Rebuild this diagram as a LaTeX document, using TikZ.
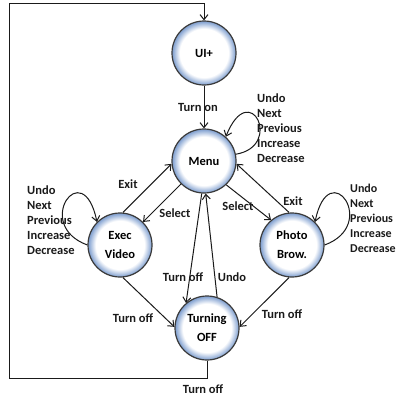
\documentclass[tikz,border=0pt]{standalone}
\usepackage{fontspec}
\setmainfont{Carlito}
\usetikzlibrary{arrows.meta,positioning}
\definecolor{rimblue}{HTML}{86A4D2}
\definecolor{stateline}{HTML}{3A3A3A}
\definecolor{wireblack}{HTML}{1A1A1A}
\pgfdeclareradialshading{statefill}{\pgfpoint{0bp}{0bp}}{color(0bp)=(white); color(19bp)=(white); color(24.5bp)=(rimblue); color(50bp)=(rimblue)}
\tikzset{
    state/.style={circle, minimum size=64pt, inner sep=0pt, draw=stateline, line width=1.2pt, shade, shading=statefill, align=center, font=\bfseries\fontsize{12.5}{19}\selectfont},
    trans/.style={-{Straight Barb[length=5pt,width=8pt]}, line width=1pt, wireblack},
    lbl/.style={font=\bfseries\fontsize{12.5}{15}\selectfont, text=wireblack, inner sep=0pt},
    cmdlist/.style={lbl, align=left, anchor=west}
}

\begin{document}
\begin{tikzpicture}[x=1pt,y=1pt]
    \useasboundingbox (0,0) rectangle (396,-397);

    % States
    \node[state] (uh) at (204,-53) {UI+};
    \node[state] (menu) at (204,-161) {Menu};
    \node[state] (exec) at (120,-245) {Exec\\Video};
    \node[state] (photo) at (292,-245) {Photo\\Brow.};
    \node[state] (off) at (207,-328) {Turning\\OFF};

    % Power on / off
    \draw[trans] (uh) -- (menu);
    \node[lbl] (lblon) at (198,-107) {Turn on};

    % Menu <-> players
    \draw[trans] (exec.85) -- (menu.185);
    \draw[trans] (menu.225) -- (exec.45);
    \draw[trans] (menu.313) -- (photo.130);
    \draw[trans] (photo.95) -- (menu.-5);
    \node[lbl] (lblexitl) at (128,-184) {Exit};
    \node[lbl] (lblselectl) at (175,-213) {Select};
    \node[lbl] (lblselectr) at (238,-206) {Select};
    \node[lbl] (lblexitr) at (293,-201) {Exit};

    % Into Turning OFF
    \draw[trans] (menu.266) -- (off.130);
    \draw[trans] (off.72) -- (menu.273);
    \draw[trans] (exec.275) -- (off.178);
    \draw[trans] (photo.265) -- (off.2);
    \node[lbl] (lbloffm) at (183,-277) {Turn off};
    \node[lbl] (lblundo) at (232,-277) {Undo};
    \node[lbl] (lbloffl) at (133,-318) {Turn off};
    \node[lbl] (lbloffr) at (282,-314) {Turn off};

    % Self loops
    \draw[trans] (menu.12) .. controls +(48,8) and +(24,60) .. (menu.48);
    \draw[trans] (exec.180) .. controls +(-55,20) and +(-14,68) .. (exec.135);
    \draw[trans] (photo.0) .. controls +(55,20) and +(14,68) .. (photo.45);
    \node[cmdlist] (cmdmenu) at (257,-128) {Undo\\Next\\Previous\\Increase\\Decrease};
    \node[cmdlist] (cmdexec) at (27,-220) {Undo\\Next\\Previous\\Increase\\Decrease};
    \node[cmdlist, font=\bfseries\fontsize{12}{15}\selectfont] (cmdphoto) at (350,-218) {Undo\\Next\\Previous\\Increase\\Decrease};

    % Back round to UI+
    \coordinate (cornerbl) at (9,-378);
    \coordinate (cornertl) at (9,-3);
    \draw[trans] (off) -- (off |- cornerbl) -- (cornerbl) -- (cornertl) -- (cornertl -| uh) -- (uh);
    \node[lbl] (lbloffb) at (203,-389) {Turn off};
\end{tikzpicture}
\end{document}
